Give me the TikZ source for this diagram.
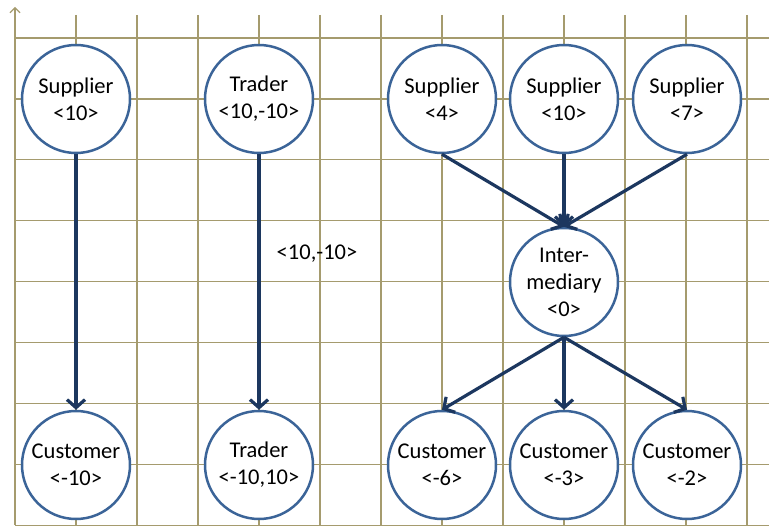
\documentclass[tikz,border=0pt]{standalone}
\usepackage{fontspec}
\setmainfont{Carlito}
\usetikzlibrary{arrows.meta}
\definecolor{gridc}{RGB}{165,155,110}
\definecolor{circc}{RGB}{59,100,152}
\definecolor{arrc}{RGB}{28,55,95}
\tikzset{
  ent/.style={circle,draw=circc,line width=2.5pt,fill=white,minimum size=108pt,inner sep=0pt,align=center,font=\fontsize{22.5}{27}\selectfont},
  flow/.style={draw=arrc,line width=3.2pt,-{Straight Barb[length=8pt,width=18pt]}},
  gridline/.style={draw=gridc,line width=1.3pt},
  lbl/.style={font=\fontsize{22.5}{27}\selectfont}
}
\begin{document}
\begin{tikzpicture}[x=1pt,y=-1pt]
\useasboundingbox (0,0) rectangle (769,527);
% grid
\foreach \i in {1,...,12} {\draw[gridline] (15+61*\i,15) -- (15+61*\i,525);}
\foreach \j in {0,...,8} {\draw[gridline] (15,38+60.9*\j) -- (769,38+60.9*\j);}
\draw[gridline,line width=1.1pt,-{Straight Barb[length=5pt,width=10pt]}] (15,525) -- (15,7);
% nodes
\node[ent] (s1) at (76,99) {Supplier\\<10>};
\node[ent] (t1) at (259,99) {Trader\\<10,-10>};
\node[ent] (s4) at (442,99) {Supplier\\<4>};
\node[ent] (s10) at (564,99) {Supplier\\<10>};
\node[ent] (s7) at (687,99) {Supplier\\<7>};
\node[ent] (im) at (564,282) {Inter-\\mediary\\<0>};
\node[ent] (c1) at (76,465) {Customer\\<-10>};
\node[ent] (t2) at (259,465) {Trader\\<-10,10>};
\node[ent] (c6) at (442,465) {Customer\\<-6>};
\node[ent] (c3) at (564,465) {Customer\\<-3>};
\node[ent] (c2) at (687,465) {Customer\\<-2>};
\node[lbl] (lab) at (317,254) {<10,-10>};
% arrows
\draw[flow] (s1.south) -- (c1.north);
\draw[flow] (t1.south) -- (t2.north);
\draw[flow] (s4.south) -- (im.north);
\draw[flow] (s10.south) -- (im.north);
\draw[flow] (s7.south) -- (im.north);
\draw[flow] (im.south) -- (c6.north);
\draw[flow] (im.south) -- (c3.north);
\draw[flow] (im.south) -- (c2.north);
\end{tikzpicture}
\end{document}
